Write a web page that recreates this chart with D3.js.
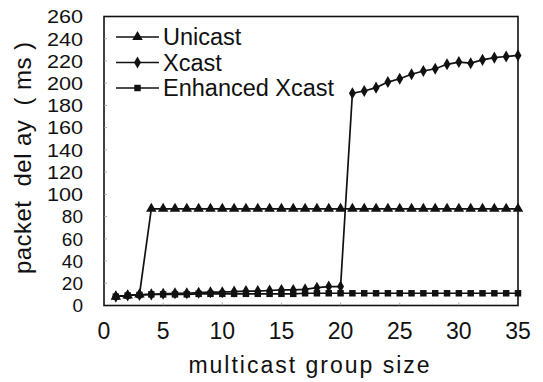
<!DOCTYPE html>
<html lang="en">
  <head>
    <meta charset="UTF-8" />
    <title>packet delay vs multicast group size</title>
    <script src="https://d3js.org/d3.v7.min.js"></script>
    <style>
      body { margin: 0; background: #fff; }
      text { font-family: "Liberation Sans", Arial, sans-serif; fill: #111; }
    </style>
  </head>
  <body>
    <svg id="chart" width="543" height="382"></svg>
    <script>
      // group sizes 1..35
      const groupSize = [
        1, 2, 3, 4, 5, 6, 7, 8, 9, 10, 11, 12, 13, 14, 15, 16, 17, 18,
        19, 20, 21, 22, 23, 24, 25, 26, 27, 28, 29, 30, 31, 32, 33, 34, 35
      ];
      const unicast = [
        8, 9, 10, 87, 87, 87, 87, 87, 87, 87, 87, 87, 87, 87, 87, 87, 87, 87,
        87, 87, 87, 87, 87, 87, 87, 87, 87, 87, 87, 87, 87, 87, 87, 87, 87
      ];
      const xcast = [
        8, 9, 9.5, 10, 10.5, 11, 11, 11.5, 12, 12, 12.5, 13, 13, 13.5, 14, 14, 14.5, 16,
        17, 17, 191, 193, 196, 201, 204, 208, 211, 213, 217, 219, 218, 221, 223, 224, 225
      ];
      const enhanced = [
        8, 9, 9.5, 10, 10, 10, 10, 10.5, 10.5, 10.5, 10.5, 10.5, 10.5, 10.5, 10.5, 10.5, 11, 11,
        11, 11, 11, 11, 11, 11, 11, 11, 11, 11, 11, 11, 11, 11, 11, 11, 11
      ];
      const xTicks = [0, 5, 10, 15, 20, 25, 30, 35];
      const yTicks = d3.range(0, 261, 20);

      const svg = d3.select("#chart");
      const m = { left: 104, right: 518, top: 16.5, bottom: 305.5 };

      const x = d3.scaleLinear().domain([0, 35]).range([m.left, m.right]);
      const y = d3.scaleLinear().domain([0, 260]).range([m.bottom, m.top]);

      // frame
      svg.append("rect")
        .attr("x", m.left).attr("y", m.top)
        .attr("width", m.right - m.left).attr("height", m.bottom - m.top)
        .attr("fill", "none").attr("stroke", "#111").attr("stroke-width", 1.6);

      // faint inner ticks
      svg.append("g").selectAll("line").data(yTicks.slice(1, -1)).join("line")
        .attr("x1", m.left).attr("x2", m.left + 3)
        .attr("y1", (d) => y(d)).attr("y2", (d) => y(d))
        .attr("stroke", "#999").attr("stroke-width", 0.8);
      svg.append("g").selectAll("line").data(xTicks.slice(1, -1)).join("line")
        .attr("x1", (d) => x(d)).attr("x2", (d) => x(d))
        .attr("y1", m.bottom).attr("y2", m.bottom - 3)
        .attr("stroke", "#999").attr("stroke-width", 0.8);

      // tick labels (tightly stacked, like the original)
      svg.append("g").selectAll("text").data(yTicks).join("text")
        .attr("x", 83).attr("y", (d) => y(d))
        .attr("dy", "0.36em").attr("text-anchor", "end")
        .attr("font-size", 19).attr("textLength", 36)
        .attr("lengthAdjust", "spacingAndGlyphs")
        .text((d) => d);
      // single/double digit ones shouldn't be stretched
      svg.selectAll("g text").filter((d) => d < 100).attr("textLength", null);
      svg.append("g").selectAll("text").data(xTicks).join("text")
        .attr("x", (d) => x(d)).attr("y", 331)
        .attr("dy", "0.36em").attr("text-anchor", "middle")
        .attr("font-size", 23).text((d) => d);

      // axis titles
      svg.append("text")
        .attr("x", 310).attr("y", 365).attr("dy", "0.36em")
        .attr("text-anchor", "middle").attr("font-size", 23)
        .attr("letter-spacing", 2)
        .text("multicast group size");
      svg.append("text")
        .attr("transform", "translate(22,158) rotate(-90)")
        .attr("dy", "0.36em").attr("text-anchor", "middle")
        .attr("font-size", 24).style("white-space", "pre")
        .attr("textLength", 232).attr("lengthAdjust", "spacing")
        .text("packet  del ay  ( ms )");

      const line = d3.line().x((d) => x(d[0])).y((d) => y(d[1]));

      const symbols = {
        tri: d3.symbol().type(d3.symbolTriangle).size(48),
        dia: d3.symbol().type(d3.symbolDiamond).size(42),
        sq: d3.symbol().type(d3.symbolSquare).size(42)
      };

      const series = [
        { name: "Unicast", values: unicast, sym: "tri" },
        { name: "Xcast", values: xcast, sym: "dia" },
        { name: "Enhanced Xcast", values: enhanced, sym: "sq" }
      ];

      series.forEach((s) => {
        const pts = groupSize.map((g, i) => [g, s.values[i]]);
        svg.append("path").datum(pts)
          .attr("d", line).attr("fill", "none")
          .attr("stroke", "#111").attr("stroke-width", 1.7);
        svg.append("g").selectAll("path").data(pts).join("path")
          .attr("d", symbols[s.sym])
          .attr("transform", (d) => `translate(${x(d[0])},${y(d[1])})`)
          .attr("fill", "#111");
      });

      // legend
      const legend = svg.append("g");
      series.forEach((s, i) => {
        const ly = 37 + i * 25.5;
        legend.append("line")
          .attr("x1", 116).attr("x2", 159).attr("y1", ly).attr("y2", ly)
          .attr("stroke", "#111").attr("stroke-width", 1.6);
        legend.append("path").attr("d", symbols[s.sym])
          .attr("transform", `translate(137.5,${ly})`).attr("fill", "#111");
        legend.append("text")
          .attr("x", 163).attr("y", ly).attr("dy", "0.36em")
          .attr("font-size", 23.5).text(s.name);
      });
    </script>
  </body>
</html>
